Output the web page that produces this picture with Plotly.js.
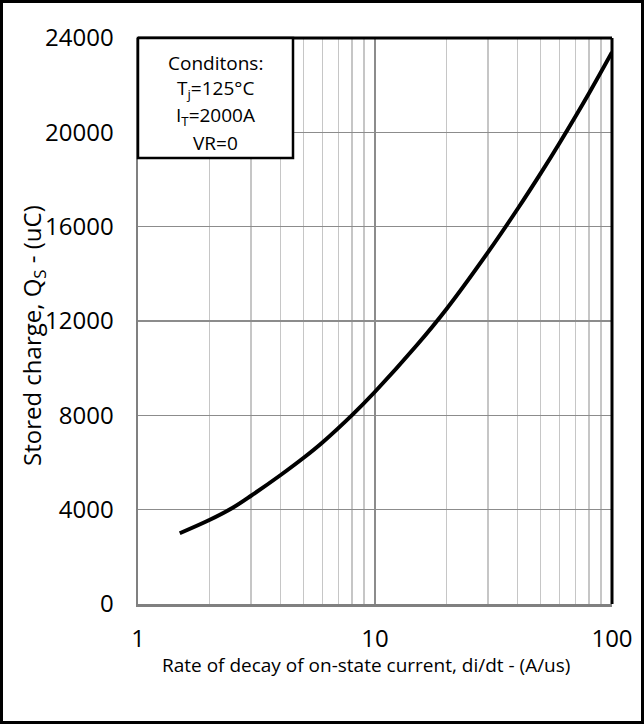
<!DOCTYPE html>
<html>
<head>
<meta charset="utf-8">
<script src="https://cdn.plot.ly/plotly-3.0.1.min.js"></script>
<style>
html,body{margin:0;padding:0;background:#fff;}
#wrap{position:relative;width:644px;height:724px;}
#chart{width:644px;height:724px;}
#frame{position:absolute;left:0;top:0;width:644px;height:724px;box-sizing:border-box;border:3px solid #000;pointer-events:none;}
</style>
</head>
<body>
<div id="wrap"><div id="chart"></div><div id="frame"></div></div>
<script>
// Data
var diDt = [1.5, 2, 2.5, 3, 4, 5, 6, 8, 10, 15, 20, 30, 40, 50, 60, 80, 100];
var storedCharge = [3000, 3560, 4070, 4590, 5470, 6200, 6850, 8010, 9000, 10970, 12500, 14920, 16760, 18260, 19540, 21660, 23400];
var xTickVals = [1, 10, 100];
var xTickText = ['1', '10', '100'];
var xMinorVals = [2,3,4,5,6,7,8,9,20,30,40,50,60,70,80,90];
var yTickVals = [0, 4000, 8000, 12000, 16000, 20000, 24000];
var yTickText = ['0', '4000', '8000', '12000', '16000', '20000', '24000'];
var conditionLines = ['Conditons:', 'T<sub>j</sub>=125°C', 'I<sub>T</sub>=2000A', 'VR=0'];
var xTitle = 'Rate of decay of on-state current, di/dt - (A/us)';
var yTitle = 'Stored charge, Q<sub>S</sub> - (uC)';

var FONT = '"Open Sans", "Liberation Sans", sans-serif';

var trace = {
  x: diDt, y: storedCharge, type: 'scatter', mode: 'lines',
  line: {color: '#000', width: 4, shape: 'spline', smoothing: 1},
  hoverinfo: 'skip'
};

var annotations = conditionLines.map(function(t, i){
  return {xref:'paper', yref:'paper', x:0.163, y:1 - (25 + i*26.5)/566, xanchor:'center', yanchor:'middle',
    text:t, showarrow:false, font:{family:FONT, size:19, color:'#000'}};
});
annotations.push({xref:'paper', yref:'paper', x:(366-138)/474, y:-(665-604)/566, xanchor:'center', yanchor:'middle',
  text:xTitle, showarrow:false, font:{family:FONT, size:19, color:'#000'}});
annotations.push({xref:'paper', yref:'paper', x:(33-138)/474, y:(604-336)/566, xanchor:'center', yanchor:'middle',
  text:yTitle, textangle:-90, showarrow:false, font:{family:FONT, size:24, color:'#000'}});

var layout = {
  width: 644, height: 724,
  margin: {l:138, r:32, t:38, b:120, pad:0},
  paper_bgcolor: '#fff', plot_bgcolor: '#fff',
  showlegend: false,
  font: {family: FONT, color:'#000'},
  xaxis: {
    type:'log', range:[0, 2],
    tickmode:'array', tickvals:xTickVals, ticktext:xTickText,
    ticks:'', ticklabelstandoff: 12,
    tickfont:{family:FONT, size:24, color:'#000'},
    showgrid:true, gridcolor:'#8c8c8c', gridwidth:1.5,
    minor:{tickmode:'array', tickvals:xMinorVals, showgrid:true, gridcolor:'#c6c6c6', gridwidth:1.5, ticks:''},
    showline:true, linecolor:'#808080', linewidth:2.5,
    zeroline:false
  },
  yaxis: {
    range:[0, 24000],
    tickmode:'array', tickvals:yTickVals, ticktext:yTickText,
    ticks:'', ticklabelstandoff: 17,
    tickfont:{family:FONT, size:24, color:'#000'},
    showgrid:true, gridcolor:'#8c8c8c', gridwidth:1.5,
    showline:true, linecolor:'#808080', linewidth:2.5,
    zeroline:false
  },
  shapes: [
    {type:'line', xref:'paper', yref:'paper', x0:0, x1:1, y0:1, y1:1, line:{color:'#000', width:3}},
    {type:'line', xref:'paper', yref:'paper', x0:1, x1:1, y0:0, y1:1, line:{color:'#000', width:3}},
    {type:'rect', xref:'paper', yref:'paper', x0:0, x1:155/474, y0:1-120/566, y1:1, fillcolor:'#fff', line:{color:'#000', width:2.5}, layer:'above'}
  ],
  annotations: annotations
};

Plotly.newPlot('chart', [trace], layout, {staticPlot:true, displayModeBar:false});
</script>
</body>
</html>
